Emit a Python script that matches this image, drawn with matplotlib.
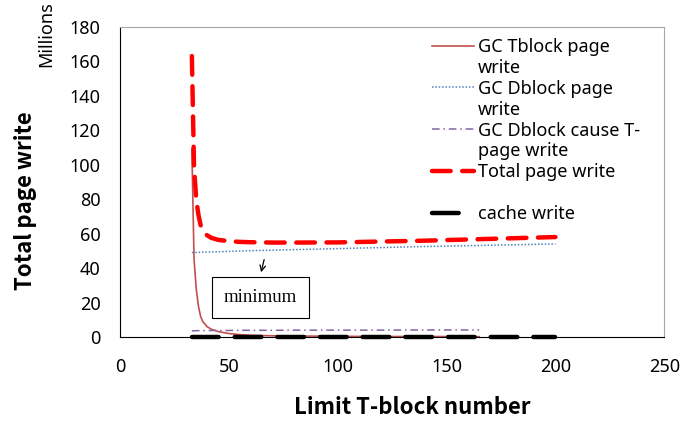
import matplotlib.pyplot as plt
from matplotlib.lines import Line2D

plt.rcParams['font.family'] = ['Noto Sans', 'DejaVu Sans']

# limit T-block number (x) and page writes (millions)
x_gc = [33, 34, 35, 36, 37, 38, 40, 42, 45, 50, 55, 60, 70, 80, 100, 120, 140, 165]
tblock_write = [109, 45, 28, 18, 12, 9, 6, 4.5, 3.2, 2.0, 1.4, 1.0, 0.7, 0.6, 0.4, 0.3, 0.3, 0.2]
dcause_write = [3.6, 3.6, 3.7, 3.7, 3.7, 3.7, 3.8, 3.8, 3.8, 3.8, 3.9, 3.9, 3.9, 4.0, 4.0, 4.0, 4.1, 4.1]

x_all = [33, 34, 35, 36, 37, 38, 40, 42, 45, 50, 55, 60, 70, 80, 100, 120, 140, 160, 180, 200]
dblock_write = [49.0, 49.0, 49.1, 49.1, 49.2, 49.2, 49.3, 49.4, 49.5, 49.7, 49.9, 50.1, 50.4, 50.7,
                51.3, 51.9, 52.5, 53.0, 53.5, 54.0]
total_write = [163, 98, 80, 71, 65, 62, 59, 57.5, 56.4, 55.6, 55.2, 55.0, 54.8, 54.8,
               54.9, 55.4, 55.9, 56.6, 57.3, 58.0]
cache_write = [0] * len(x_all)

fig = plt.figure(figsize=(6.82, 4.25), dpi=100)
ax = fig.add_axes([0.176, 0.207, 0.798, 0.73])

l1, = ax.plot(x_gc, tblock_write, color='#C0504D', lw=1.2)
l2, = ax.plot(x_all, dblock_write, color='#4F81BD', lw=1.1, ls=(0, (1, 1.2)))
l3, = ax.plot(x_gc, dcause_write, color='#8064A2', lw=1.1, ls=(0, (5, 2.5, 1, 2.5)))
l5, = ax.plot(x_all, cache_write, color='black', lw=3.2, ls=(0, (6, 3.6)), clip_on=False,
              dash_capstyle='round')
l4, = ax.plot(x_all, total_write, color='#FF0000', lw=3.2, ls=(0, (4.2, 2.6)),
              dash_capstyle='round')

ax.set_xlim(0, 250)
ax.set_ylim(0, 180)
ax.set_xticks(range(0, 251, 50))
ax.set_yticks(range(0, 181, 20))
ax.tick_params(length=0, labelsize=13)
ax.tick_params(axis='y', pad=14)
ax.tick_params(axis='x', pad=15)

for side in ['top', 'right']:
    ax.spines[side].set_color('#A6A6A6')
    ax.spines[side].set_linewidth(0.8)
for side in ['left', 'bottom']:
    ax.spines[side].set_color('black')
    ax.spines[side].set_linewidth(0.8)

label_font = dict(family=['Noto Sans CJK TC', 'DejaVu Sans'], fontsize=16, fontweight='bold')
ax.set_xlabel('Limit T-block number', **label_font)
ax.xaxis.set_label_coords(0.537, -0.19)
ax.set_ylabel('Total page write', **label_font)
ax.yaxis.set_label_coords(-0.152, 0.44)
fig.text(0.068, 0.998, 'Millions', rotation=90, fontsize=13, ha='center', va='top')

# minimum marker
ax.annotate('', xy=(64.5, 36), xytext=(66.5, 46.5),
            arrowprops=dict(arrowstyle='->', color='black', lw=0.9))
ax.text(64.5, 23, 'minimum', family='Liberation Serif', fontsize=13.5, ha='center', va='center',
        bbox=dict(boxstyle='square,pad=0.65', fc='white', ec='black', lw=0.8))

blank = Line2D([], [], color='none')
handles = [l1, blank, l2, blank, l3, blank, l4, blank, l5]
labels = ['GC Tblock page', 'write', 'GC Dblock page', 'write', 'GC Dblock cause T-',
          'page write', 'Total page write', ' ', 'cache write']
ax.legend(handles, labels, loc='upper left', bbox_to_anchor=(0.56, 0.987), frameon=False,
          fontsize=13, handlelength=2.3, handletextpad=0.25, labelspacing=0.16,
          borderaxespad=0)

fig.savefig('out.png', dpi=100)
